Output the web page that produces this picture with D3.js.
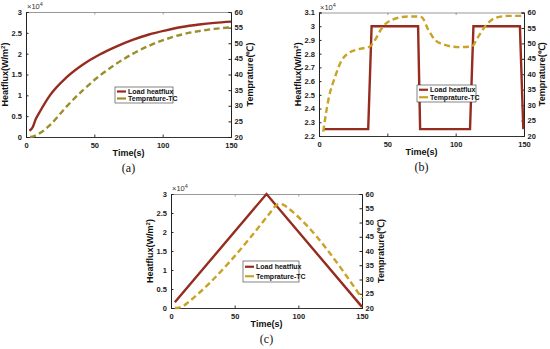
<!DOCTYPE html>
<html><head><meta charset="utf-8">
<script src="https://cdn.jsdelivr.net/npm/d3@7"></script>
<style>
body{margin:0;background:#fff;}
svg text{font-family:"Liberation Sans",Arial,sans-serif;}
</style></head>
<body><svg id="chart" width="550" height="349"></svg>
<script>
// ---- data ----
const xTicks = [0, 50, 100, 150];
const tempTicks = [20, 25, 30, 35, 40, 45, 50, 55, 60];
const seriesNames = ["Load heatflux", "Temprature-TC"];

// panel (a)
const heatTimeA = [2.5, 5, 7, 10, 17.5, 29.6, 41.7, 53.9, 66, 78, 90, 102.4, 114, 126.7, 138, 150];
const heatA     = [0.15, 0.24, 0.42, 0.6, 1.0, 1.43, 1.74, 1.98, 2.17, 2.33, 2.46, 2.56, 2.64, 2.70, 2.74, 2.77];
const tempTimeA = [3, 6, 10, 17.5, 29.6, 41.7, 53.9, 66, 78, 90, 102.4, 114, 126.7, 138, 150];
const tempA     = [20, 20.3, 21.2, 23.8, 29.7, 35, 39.6, 43.4, 46.6, 49.2, 51.3, 52.8, 53.9, 54.6, 55.1];
const heatTicksA = [0, 0.5, 1, 1.5, 2, 2.5, 3];

// panel (b)
const heatTimeB = [3, 36, 38.5, 72.5, 74, 110.5, 113, 147, 149.5];
const heatB     = [2.25, 2.25, 3.0, 3.0, 2.25, 2.25, 3.0, 3.0, 2.25];
const tempTimeB = [3.1, 6.8, 11.7, 16.6, 21.4, 28.8, 37.3, 41, 45.9, 53.2, 65.3, 72, 75.1, 80, 84.9, 92.2, 101.9, 111.7, 116.6, 121.5, 128.8, 138.5, 148.3, 150];
const tempB     = [21.4, 31.6, 39.1, 44.5, 46.8, 48.1, 49, 51.1, 54.9, 57.6, 58.7, 58.7, 58.5, 54.4, 51.1, 49.5, 48.8, 49, 52.2, 55.5, 58.2, 58.9, 58.9, 58.6];
const heatTicksB = [2.2, 2.3, 2.4, 2.5, 2.6, 2.7, 2.8, 2.9, 3, 3.1];

// panel (c)
const heatTimeC = [3, 75, 150];
const heatC     = [0.15, 3.0, 0.03];
const tempTimeC = [3, 6, 10, 14, 78, 82, 85, 88, 92, 150];
const tempC     = [20, 20.1, 20.8, 22.2, 53.5, 55.8, 56.5, 56.3, 55.0, 23.4];
const heatTicksC = [0, 0.5, 1, 1.5, 2, 2.5, 3];

const HEAT_COLOR = "#962b1f";
const svg = d3.select("#chart");

function panel(o) {
  const g = svg.append("g");
  const x = d3.scaleLinear().domain([0, 150]).range([o.left, o.right]);
  const yL = d3.scaleLinear().domain(o.heatDomain).range([o.bottom, o.top]);
  const yR = d3.scaleLinear().domain([20, 60]).range([o.bottom, o.top]);
  const fmt = d => String(+d.toFixed(2));

  // box top (gray)
  g.append("g").attr("transform", `translate(0,${o.top})`)
    .call(d3.axisBottom(x).tickValues(xTicks).tickSize(2.5).tickFormat(""))
    .call(a => a.selectAll("line,path").attr("stroke", "#999"));
  // bottom axis
  g.append("g").attr("transform", `translate(0,${o.bottom})`)
    .call(d3.axisTop(x).tickValues(xTicks).tickSize(2.5).tickFormat(""))
    .call(a => a.selectAll("line,path").attr("stroke", "#333"));
  g.append("g").attr("transform", `translate(0,${o.bottom})`)
    .call(d3.axisBottom(x).tickValues(xTicks).tickSize(0).tickPadding(5.5).tickFormat(fmt))
    .call(a => { a.select("path").remove(); a.selectAll("text").attr("font-size", 7.5).attr("font-weight", "bold").attr("fill", "#222"); });
  // left axis
  g.append("g").attr("transform", `translate(${o.left},0)`)
    .call(d3.axisRight(yL).tickValues(o.heatTicks).tickSize(2.5).tickFormat(""))
    .call(a => a.selectAll("line,path").attr("stroke", "#222"));
  g.append("g").attr("transform", `translate(${o.left},0)`)
    .call(d3.axisLeft(yL).tickValues(o.heatTicks).tickSize(0).tickPadding(4).tickFormat(fmt))
    .call(a => { a.select("path").remove(); a.selectAll("text").attr("font-size", 7.5).attr("font-weight", "bold").attr("fill", "#222"); });
  // right axis
  g.append("g").attr("transform", `translate(${o.right},0)`)
    .call(d3.axisLeft(yR).tickValues(tempTicks).tickSize(2.5).tickFormat(""))
    .call(a => a.selectAll("line,path").attr("stroke", "#222"));
  g.append("g").attr("transform", `translate(${o.right},0)`)
    .call(d3.axisRight(yR).tickValues(tempTicks).tickSize(0).tickPadding(3.5).tickFormat(d3.format("d")))
    .call(a => { a.select("path").remove(); a.selectAll("text").attr("font-size", 7.5).attr("font-weight", "bold").attr("fill", "#222").attr("dy", "0.28em"); });

  // x10^4
  const e = g.append("text").attr("x", o.left + 1).attr("y", o.top - 3).attr("font-size", 7.5).attr("fill", "#333");
  e.append("tspan").text("×10");
  e.append("tspan").attr("dy", -3).attr("font-size", 5.5).text("4");

  // lines
  const heatPts = o.heatTime.map((t, i) => [t, o.heat[i]]);
  const tempPts = o.tempTime.map((t, i) => [t, o.temp[i]]);
  g.append("path").datum(heatPts)
    .attr("d", d3.line().x(d => x(d[0])).y(d => yL(d[1])).curve(o.heatCurve))
    .attr("fill", "none").attr("stroke", HEAT_COLOR).attr("stroke-width", 2.4);
  g.append("path").datum(tempPts)
    .attr("d", d3.line().x(d => x(d[0])).y(d => yR(d[1])).curve(d3.curveMonotoneX))
    .attr("fill", "none").attr("stroke", o.tempColor).attr("stroke-width", 2.4)
    .attr("stroke-dasharray", "6,3.5");

  // axis labels
  const cy = (o.top + o.bottom) / 2;
  const hl = g.append("text").attr("transform", `translate(${o.left - 18},${cy}) rotate(-90)`)
    .attr("text-anchor", "middle").attr("font-size", 9).attr("font-weight", "bold").attr("fill", "#111");
  hl.append("tspan").text("Heatflux(W/m");
  hl.append("tspan").attr("dy", -3).attr("font-size", 6).text("2");
  hl.append("tspan").attr("dy", 3).text(")");
  g.append("text").attr("transform", `translate(${o.right + o.rOff},${cy}) rotate(-90)`)
    .attr("text-anchor", "middle").attr("font-size", 9).attr("font-weight", "bold").attr("fill", "#111")
    .text("Temprature(℃)");
  g.append("text").attr("x", (o.left + o.right) / 2).attr("y", o.bottom + 18.5)
    .attr("text-anchor", "middle").attr("font-size", 9).attr("font-weight", "bold").attr("fill", "#111")
    .text("Time(s)");
  g.append("text").attr("x", (o.left + o.right) / 2).attr("y", o.bottom + 35)
    .attr("text-anchor", "middle").attr("font-size", 12).attr("fill", "#111")
    .style("font-family", "'Liberation Serif','Times New Roman',serif")
    .text(o.tag);

  // legend
  const lg = g.append("g").attr("transform", `translate(${o.lx},${o.ly})`);
  lg.append("rect").attr("width", o.lw).attr("height", o.lh).attr("fill", "#fff").attr("stroke", "#333").attr("stroke-width", 0.6);
  const colors = [HEAT_COLOR, o.tempColor];
  seriesNames.forEach((n, i) => {
    const yy = o.lh * (i + 0.5) / 2 + (i === 0 ? 0.5 : -0.5);
    lg.append("line").attr("x1", 2).attr("x2", 11).attr("y1", yy).attr("y2", yy)
      .attr("stroke", colors[i]).attr("stroke-width", 2.2);
    lg.append("text").attr("x", 13).attr("y", yy + 2.5).attr("font-size", 7).attr("font-weight", "bold").attr("fill", "#111").text(n);
  });
}

panel({left: 26, right: 231, top: 12, bottom: 137, heatDomain: [0, 3], heatTicks: heatTicksA,
  heatTime: heatTimeA, heat: heatA, tempTime: tempTimeA, temp: tempA, heatCurve: d3.curveMonotoneX,
  tempColor: "#9a8f2a", tag: "(a)", lx: 115, ly: 87, lw: 58, lh: 16, rOff: 22});
panel({left: 319, right: 524, top: 12.5, bottom: 136, heatDomain: [2.2, 3.1], heatTicks: heatTicksB,
  heatTime: heatTimeB, heat: heatB, tempTime: tempTimeB, temp: tempB, heatCurve: d3.curveLinear,
  tempColor: "#c9a227", tag: "(b)", lx: 417, ly: 85, lw: 59, lh: 17, rOff: 21});
panel({left: 171, right: 362, top: 194, bottom: 308, heatDomain: [0, 3], heatTicks: heatTicksC,
  heatTime: heatTimeC, heat: heatC, tempTime: tempTimeC, temp: tempC, heatCurve: d3.curveLinear,
  tempColor: "#c9a227", tag: "(c)", lx: 243, ly: 261, lw: 56, lh: 21, rOff: 22});
</script>
</body></html>
